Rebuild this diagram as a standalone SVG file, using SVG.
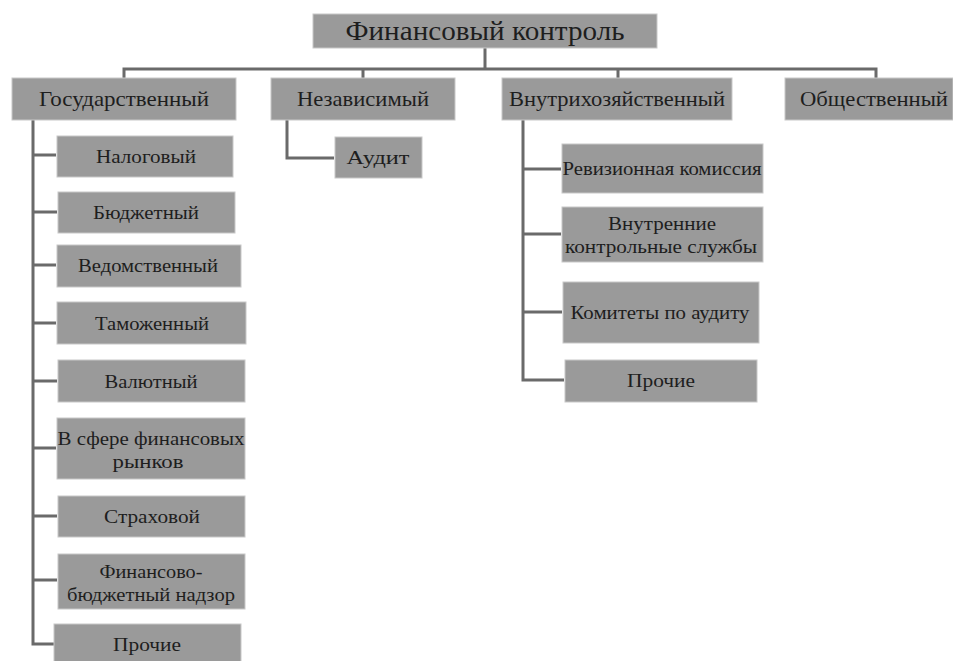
<svg xmlns="http://www.w3.org/2000/svg" width="953" height="661" viewBox="0 0 953 661">
<style>
.box{fill:#9a9a9a;stroke:#c8c8c8;stroke-width:1}
.t{font-family:"Liberation Serif","Times New Roman",serif;fill:#1e1e1e;text-anchor:middle}
.t1{font-size:27px}
.t2{font-size:21px}
.t3{font-size:19px}
.c{fill:none;stroke:#6a6a6a;stroke-width:3}
</style>
<rect width="953" height="661" fill="#ffffff"/>
<g id="connectors">
<path class="c" d="M485,48 V69 M124,78 V69 H876 V78 M363,69 V78 M618,69 V78"/>
<path class="c" d="M33,120 V644 H54 M33,155 H56 M33,212 H57 M33,265 H56 M33,323 H56 M33,381 H57 M33,448 H56 M33,516 H57 M33,580 H57"/>
<path class="c" d="M287,120 V158 H334"/>
<path class="c" d="M523,120 V380 H564 M523,169 H561 M523,234 H561 M523,312 H562"/>
</g>
<g id="n-root"><rect class="box" x="313" y="14" width="344" height="34"/><text class="t t1" x="485" y="40" textLength="279" lengthAdjust="spacingAndGlyphs">Финансовый контроль</text></g>
<g id="n-gos"><rect class="box" x="12" y="78" width="224" height="42"/><text class="t t2" x="124" y="106" textLength="170" lengthAdjust="spacingAndGlyphs">Государственный</text></g>
<g id="n-nez"><rect class="box" x="271" y="78" width="184" height="42"/><text class="t t2" x="363" y="106" textLength="132" lengthAdjust="spacingAndGlyphs">Независимый</text></g>
<g id="n-vnu"><rect class="box" x="502" y="78" width="230" height="42"/><text class="t t2" x="617" y="106" textLength="216" lengthAdjust="spacingAndGlyphs">Внутрихозяйственный</text></g>
<g id="n-obs"><rect class="box" x="785" y="78" width="168" height="42"/><text class="t t2" x="874" y="106" textLength="148" lengthAdjust="spacingAndGlyphs">Общественный</text></g>

<g id="n-nal"><rect class="box" x="57" y="136" width="176" height="41"/><text class="t t3" x="146" y="163" textLength="100" lengthAdjust="spacingAndGlyphs">Налоговый</text></g>
<g id="n-bud"><rect class="box" x="58" y="192" width="177" height="41"/><text class="t t3" x="146" y="219" textLength="106" lengthAdjust="spacingAndGlyphs">Бюджетный</text></g>
<g id="n-ved"><rect class="box" x="57" y="245" width="184" height="42"/><text class="t t3" x="148" y="272" textLength="140" lengthAdjust="spacingAndGlyphs">Ведомственный</text></g>
<g id="n-tam"><rect class="box" x="57" y="302" width="189" height="42"/><text class="t t3" x="152" y="330" textLength="114" lengthAdjust="spacingAndGlyphs">Таможенный</text></g>
<g id="n-val"><rect class="box" x="58" y="360" width="187" height="42"/><text class="t t3" x="151" y="388" textLength="93" lengthAdjust="spacingAndGlyphs">Валютный</text></g>
<g id="n-fin"><rect class="box" x="57" y="418" width="188" height="61"/><text class="t t3" x="151" y="445" textLength="187" lengthAdjust="spacingAndGlyphs">В сфере финансовых</text><text class="t t3" x="148" y="468" textLength="71" lengthAdjust="spacingAndGlyphs">рынков</text></g>
<g id="n-str"><rect class="box" x="58" y="496" width="187" height="41"/><text class="t t3" x="152" y="523" textLength="96" lengthAdjust="spacingAndGlyphs">Страховой</text></g>
<g id="n-fbn"><rect class="box" x="58" y="554" width="187" height="55"/><text class="t t3" x="151" y="578" textLength="103" lengthAdjust="spacingAndGlyphs">Финансово-</text><text class="t t3" x="151" y="601" textLength="168" lengthAdjust="spacingAndGlyphs">бюджетный надзор</text></g>
<g id="n-pro1"><rect class="box" x="54" y="624" width="187" height="40"/><text class="t t3" x="147" y="651" textLength="68" lengthAdjust="spacingAndGlyphs">Прочие</text></g>

<g id="n-aud"><rect class="box" x="335" y="137" width="87" height="41"/><text class="t t3" x="378" y="164" textLength="63" lengthAdjust="spacingAndGlyphs">Аудит</text></g>

<g id="n-rev"><rect class="box" x="562" y="144" width="201" height="49"/><text class="t t3" x="662" y="175" textLength="199" lengthAdjust="spacingAndGlyphs">Ревизионная комиссия</text></g>
<g id="n-vks"><rect class="box" x="562" y="207" width="201" height="55"/><text class="t t3" x="662" y="230" textLength="108" lengthAdjust="spacingAndGlyphs">Внутренние</text><text class="t t3" x="661" y="253" textLength="192" lengthAdjust="spacingAndGlyphs">контрольные службы</text></g>
<g id="n-kom"><rect class="box" x="563" y="282" width="196" height="61"/><text class="t t3" x="660" y="319" textLength="179" lengthAdjust="spacingAndGlyphs">Комитеты по аудиту</text></g>
<g id="n-pro2"><rect class="box" x="565" y="360" width="192" height="42"/><text class="t t3" x="661" y="387" textLength="68" lengthAdjust="spacingAndGlyphs">Прочие</text></g>
</svg>
